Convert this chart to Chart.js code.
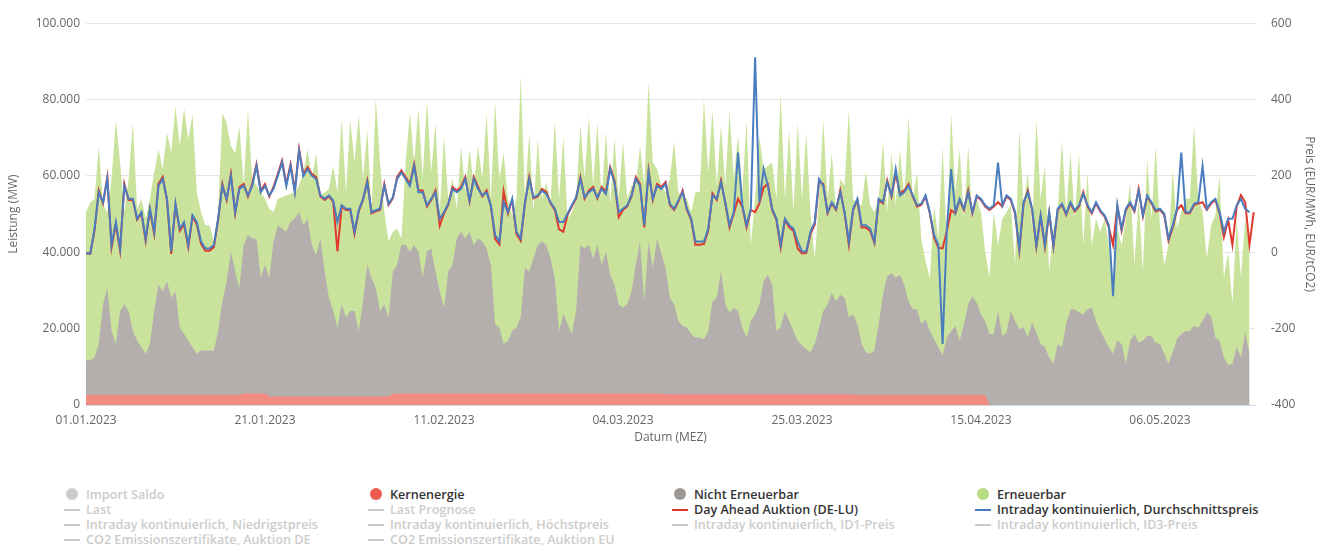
<!DOCTYPE html>
<html lang="de">
<head>
<meta charset="utf-8">
<title>Nettostromerzeugung und Preise 2023</title>
<script src="https://cdn.jsdelivr.net/npm/chart.js@4.4.0/dist/chart.umd.min.js"></script>
<style>
    body { margin: 0; background: #fff; font-family: 'Open Sans', sans-serif; }
    #wrap { position: absolute; left: 0; top: 0; width: 1328px; height: 460px; }
    .legend-item { position: absolute; font-size: 12.6px; font-weight: 600; line-height: 15px; white-space: nowrap; color: #333; }
    .legend-item.off { color: #ccc; }
    .legend-item .dot { position: absolute; left: 2px; top: 1px; width: 12px; height: 12px; border-radius: 50%; }
    .legend-item .dash { position: absolute; left: 0; top: 7px; width: 16px; height: 2px; }
    .legend-item .label { padding-left: 22px; }
</style>
</head>
<body>
<div id="wrap"><canvas id="chart" width="1328" height="460"></canvas></div>
<div id="legend"></div>
<script>
// Raster: halbe Tage (Index i -> Tag i/2)
const tickTage = [0, 21, 42, 63, 84, 105, 126];
const tickLabels = ['01.01.2023', '21.01.2023', '11.02.2023', '04.03.2023', '25.03.2023', '15.04.2023', '06.05.2023'];
const leistungTicks = [0, 20000, 40000, 60000, 80000, 100000];
const preisTicks = [-400, -200, 0, 200, 400, 600];

// Kernenergie (MW)
const kernenergie = [
    2600, 2600, 2600, 2600, 2600, 2600, 2600, 2600, 2600, 2600,
    2600, 2600, 2600, 2600, 2600, 2600, 2600, 2600, 2600, 2600,
    2600, 2600, 2600, 2600, 2600, 2600, 2600, 2600, 2600, 2600,
    2600, 2600, 2600, 2600, 2600, 2600, 2600,
    3000, 3000, 3000, 3000, 3000, 3000,
    2200, 2200, 2200, 2200, 2200, 2200, 2200, 2200, 2200, 2200,
    2200, 2200, 2200, 2200, 2200, 2200, 2200, 2200, 2200, 2200,
    2200, 2200, 2200, 2200, 2200, 2200, 2200, 2200, 2200,
    3000, 3000, 3000, 3000, 3000, 3000, 3000, 3000, 3000, 3000,
    3000, 3000, 3000, 3000, 3000, 3000, 3000, 3000, 3000, 3000,
    3000, 3000, 3000, 3000, 3000, 3000, 3000, 3000, 3000, 3000,
    3000, 3000, 3000, 3000, 3000, 3000, 3000, 3000, 3000, 3000,
    3000, 3000, 3000, 3000, 3000, 3000, 3000, 3000, 3000, 3000,
    3000, 3000, 3000, 3000, 3000, 3000, 3000, 3000, 3000, 3000,
    3000, 3000, 3000, 3000,
    2800, 2800, 2800, 2800, 2800, 2800, 2800, 2800, 2800, 2800,
    2800, 2800, 2800, 2800, 2800, 2800, 2800, 2800, 2800, 2800,
    2800, 2800, 2800, 2800, 2800, 2800, 2800, 2800, 2800, 2800,
    2800, 2800, 2800, 2800, 2800, 2800, 2800, 2800, 2800, 2800,
    2800, 2800, 2800, 2800, 2800,
    2600, 2600, 2600, 2600, 2600, 2600, 2600, 2600, 2600, 2600,
    2600, 2600, 2600, 2600, 2600, 2600, 2600, 2600, 2600, 2600,
    2600, 2600, 2600, 2600, 2600, 2600, 2600, 2600, 2600, 2600,
    2600,
    0, 0, 0, 0, 0, 0, 0, 0, 0, 0,
    0, 0, 0, 0, 0, 0, 0, 0, 0, 0,
    0, 0, 0, 0, 0, 0, 0, 0, 0, 0,
    0, 0, 0, 0, 0, 0, 0, 0, 0, 0,
    0, 0, 0, 0, 0, 0, 0, 0, 0, 0,
    0, 0, 0, 0, 0, 0, 0, 0, 0, 0,
    0, 0
];

// Obere Kante grau: Kernenergie + nicht erneuerbar (MW)
const summeKonventionell = [
    11700, 11700, 12500, 16000, 26400, 30700, 19400, 16000, 24600, 26400,
    24600, 19400, 16800, 15100, 13400, 16000, 24600, 31500, 29800, 32400,
    28100, 29800, 20300, 18600, 16800, 15100, 13400, 14300, 14300, 14300, 14300,
    19400, 27200, 32400, 40200, 35000, 30700, 41900, 44500, 43600, 43600,
    33300, 36700, 33300, 42800,
    47100, 46200, 45400, 48000, 48800, 50500, 47100, 48800, 41900, 39300,
    43600, 35000, 28100, 24600, 20300, 26400, 22900, 24600, 24600, 19400,
    27200, 36700, 33300, 30700, 24600, 26400, 22900, 35000, 36700, 42000,
    41900, 40200, 41900, 40200, 33300, 40200, 41000, 35000, 29800, 25500,
    35000, 36700, 43600, 45400,
    43600, 45400, 41900, 43600, 42800, 41000, 36700, 21200, 20300, 16000,
    16800, 19400, 20300, 22900, 35900, 35000, 38400, 41900, 42800, 41900,
    38400, 33300, 19400, 23800, 21200, 18600, 24600, 41900, 41000, 41900,
    38400, 41900, 36700, 40200, 34100, 31500, 26400, 25500, 26400, 29800,
    36700, 42800, 27200, 42800,
    35900, 43600, 39700, 35900, 28100, 26400, 22000, 20700, 20300, 18600,
    17700, 17700, 17300, 19400, 27200, 28100, 35000, 26400, 24200, 25500, 24600,
    20300, 17700, 22000, 23800, 26400, 32400, 34100, 31500, 19400, 20300,
    24600, 22000, 19400, 16800, 15600, 14700, 13800, 16000, 20300, 24600,
    26400, 29400, 27200, 28900,
    28100, 22900, 23800, 21200, 16000, 13800, 13400, 14300, 21200, 28900,
    33700, 34600, 33300, 34100, 31500, 27200, 25100, 25100, 21200, 22500,
    19400, 17300, 15100, 13000, 17700, 19300, 20700, 16800, 21200, 26400,
    28500, 26800, 23800, 22000, 18600, 18600, 24600, 18100, 19000, 24600,
    22000, 19900, 20300, 17700,
    21600, 19000, 16000, 15100, 12500, 10800, 16000, 15100, 21200, 25100,
    25100, 24200, 23800, 25100, 25500, 22000, 19400, 17300, 15100, 13400,
    16800, 16000, 10800, 16800, 18600, 16400, 16800, 18100, 18100, 16400,
    16000, 13400, 10800, 13800, 17300, 18600, 19400, 19400, 20700, 20300, 22000,
    24200, 23300, 17700, 16800, 12500, 10400, 10800, 15100, 12500, 19000,
    13400
];

// Obere Kante gruen: gesamte Erzeugung (MW)
const summeErzeugung = [
    50500, 53100, 54000, 67800, 52300, 50500, 59200, 74700, 63500, 50500,
    59200, 73900, 51400, 54000, 48800, 54000, 60900, 67000, 61800, 71300,
    66100, 78200, 67800, 77800, 69600, 76000, 55700, 50500, 47100, 47100, 42800,
    50500, 76500, 73900, 67800, 66100, 73000, 57500, 77300, 59200, 57500,
    55700, 54000, 51400, 50500,
    54000, 54400, 54900, 55300, 55700, 57500, 60900, 67000, 59200, 66100,
    54900, 55700, 56600, 62600, 55700, 75200, 55700, 74700, 63500, 76000,
    59200, 72100, 50500, 80400, 63500, 50500, 42800, 45400, 46200, 43600,
    63500, 76500, 63500, 77800, 59200, 79900, 60900, 73900, 50500, 70400,
    54000, 59200, 51400, 67800,
    55700, 67000, 57500, 67800, 59200, 76500, 54000, 79500, 59200, 66100,
    54000, 49700, 54000, 86400, 54000, 71300, 50500, 69600, 54000, 58300,
    53100, 74700, 54000, 70400, 48800, 50500, 54000, 73400, 59200, 75600,
    57500, 73900, 54000, 71700, 52300, 70000, 54000, 69100, 54000, 57500,
    57500, 67800, 57500, 84700,
    63500, 61800, 57500, 55700, 59200, 69100, 55700, 54900, 54000, 50500,
    55700, 55700, 80400, 60900, 77300, 57500, 73400, 57500, 76900, 59200, 70800,
    55700, 74700, 41900, 54000, 70400, 61800, 62600, 63500, 54000, 81600,
    54000, 72100, 50500, 73900, 54000, 71300, 50500, 38400, 54000, 74700,
    54000, 66100, 50500, 59200,
    57500, 77300, 54000, 52300, 52300, 61300, 52300, 50500, 54000, 69100,
    50500, 66100, 52300, 67000, 54000, 75600, 54000, 60900, 43600, 37600,
    33300, 52300, 43600, 67800, 41900, 76500, 55700, 67000, 48800, 67800,
    48800, 54000, 50500, 40200, 33300, 50500, 41900, 48800, 50500, 52300,
    36700, 72100, 52300, 60900,
    46200, 74700, 54000, 62600, 35000, 46200, 50500, 69100, 50500, 66100,
    48800, 66100, 41900, 60900, 41900, 48800, 45400, 48800, 41900, 31500,
    46200, 41900, 48800, 58300, 36700, 54000, 35000, 64400, 48800, 67800,
    47100, 36700, 41900, 61800, 46200, 50500, 54000, 54000, 73400, 54000, 50500,
    38400, 47100, 49700, 60000, 33300, 40200, 26400, 48800, 33300, 48800,
    41900
];

// Day Ahead Auktion (DE-LU), EUR/MWh
const dayAhead = [
    -2, -4, 56, 162, 128, 197, 13, 73, 4, 179,
    137, 137, 85, 102, 30, 111, 48, 179, 197, 137,
    -4, 124, 56, 73, 13, 94, 73, 22, 4, 4, 13,
    85, 179, 137, 205, 102, 171, 179, 146, 179, 231,
    162, 179, 146, 171,
    205, 240, 179, 231, 162, 270, 205, 223, 205, 197,
    146, 137, 146, 133, 2, 120, 111, 111, 48, 107,
    137, 188, 102, 107, 111, 179, 124, 141, 197, 214,
    197, 179, 231, 162, 162, 120, 137, 162, 70, 102,
    124, 171, 162, 171,
    197, 133, 197, 171, 146, 162, 120, 35, 20, 160,
    102, 137, 48, 30, 128, 197, 141, 146, 166, 158,
    128, 111, 60, 54, 98, 120, 141, 197, 141, 162,
    171, 141, 171, 158, 223, 188, 92, 111, 120, 146,
    197, 179, 65, 214,
    137, 179, 171, 184, 124, 111, 133, 162, 111, 85,
    20, 20, 22, 56, 154, 137, 188, 128, 65, 102, 140,
    120, 65, 111, 105, 128, 170, 179, 111, 85, 12,
    85, 65, 56, 10, -3, -2, 48, 73, 185, 179,
    102, 128, 111, 162,
    102, 20, 111, 137, 65, 65, 56, 24, 137, 128,
    188, 146, 205, 154, 162, 179, 146, 120, 124, 146,
    102, 38, 12, 10, 56, 110, 102, 137, 111, 162,
    102, 146, 137, 120, 111, 120, 131, 120, 146, 137,
    102, 5, 128, 162,
    111, 14, 94, 14, 102, 14, 111, 124, 98, 128,
    107, 120, 158, 120, 102, 128, 107, 94, 65, 19,
    120, 56, 111, 128, 107, 166, 94, 146, 128, 107,
    111, 98, 30, 65, 111, 123, 102, 102, 124, 128, 131,
    111, 128, 137, 102, 40, 85, 19, 120, 150, 131,
    20, 105
];

// Intraday kontinuierlich, Durchschnittspreis, EUR/MWh
const intradayDurchschnitt = [
    -3, -3, 62, 157, 131, 192, 19, 79, 10, 174,
    140, 140, 88, 105, 36, 114, 54, 174, 192, 140,
    2, 127, 62, 79, 19, 97, 79, 28, 10, 10, 19,
    88, 174, 140, 200, 105, 166, 174, 149, 174, 226,
    157, 174, 149, 166,
    200, 235, 174, 226, 157, 265, 200, 218, 200, 192,
    149, 140, 149, 136, 79, 123, 114, 114, 54, 110,
    140, 183, 105, 110, 114, 174, 127, 144, 192, 209,
    192, 174, 226, 157, 157, 123, 140, 157, 88, 105,
    127, 166, 157, 166,
    192, 136, 192, 166, 149, 157, 123, 45, 28, 131,
    105, 140, 54, 36, 131, 192, 144, 149, 161, 153,
    131, 114, 79, 79, 101, 123, 144, 192, 144, 157,
    166, 144, 166, 153, 218, 183, 105, 114, 123, 149,
    192, 174, 71, 209,
    140, 174, 166, 179, 127, 114, 136, 157, 114, 88,
    28, 28, 28, 62, 149, 140, 183, 131, 71, 105, 261,
    123, 71, 114, 511, 131, 218, 174, 114, 88, 19,
    88, 71, 62, 28, 2, 2, 54, 79, 192, 174,
    105, 131, 114, 157,
    105, 28, 114, 140, 71, 71, 62, 28, 140, 131,
    183, 149, 218, 149, 157, 174, 149, 123, 127, 149,
    105, 45, 19, -240, 62, 218, 105, 140, 114, 157,
    105, 149, 140, 123, 114, 123, 235, 123, 149, 140,
    105, 10, 131, 157,
    114, 19, 97, 19, 105, 19, 114, 127, 101, 131,
    110, 123, 153, 123, 105, 131, 110, 97, 71, -115,
    123, 62, 114, 131, 110, 161, 97, 149, 131, 110,
    114, 101, 36, 71, 114, 261, 105, 105, 127, 131, 226,
    114, 131, 140, 105, 54, 88, 88, 123, 140, 114,
    105
];

const legendeSpalten = [64, 368, 672, 975];
const legendeZeilen = [494, 509, 524, 539];
const legendeEintraege = [
    { spalte: 0, zeile: 0, text: 'Import Saldo', art: 'dot', farbe: '#ccc', aktiv: false },
    { spalte: 0, zeile: 1, text: 'Last', art: 'dash', farbe: '#ccc', aktiv: false },
    { spalte: 0, zeile: 2, text: 'Intraday kontinuierlich, Niedrigstpreis', art: 'dash', farbe: '#ccc', aktiv: false },
    { spalte: 0, zeile: 3, text: 'CO2 Emissionszertifikate, Auktion DE', art: 'dash', farbe: '#ccc', aktiv: false },
    { spalte: 1, zeile: 0, text: 'Kernenergie', art: 'dot', farbe: '#eb5b50', aktiv: true },
    { spalte: 1, zeile: 1, text: 'Last Prognose', art: 'dash', farbe: '#ccc', aktiv: false },
    { spalte: 1, zeile: 2, text: 'Intraday kontinuierlich, Höchstpreis', art: 'dash', farbe: '#ccc', aktiv: false },
    { spalte: 1, zeile: 3, text: 'CO2 Emissionszertifikate, Auktion EU', art: 'dash', farbe: '#ccc', aktiv: false },
    { spalte: 2, zeile: 0, text: 'Nicht Erneuerbar', art: 'dot', farbe: '#9d9793', aktiv: true },
    { spalte: 2, zeile: 1, text: 'Day Ahead Auktion (DE-LU)', art: 'dash', farbe: '#e0382b', aktiv: true },
    { spalte: 2, zeile: 2, text: 'Intraday kontinuierlich, ID1-Preis', art: 'dash', farbe: '#ccc', aktiv: false },
    { spalte: 3, zeile: 0, text: 'Erneuerbar', art: 'dot', farbe: '#b8dc84', aktiv: true },
    { spalte: 3, zeile: 1, text: 'Intraday kontinuierlich, Durchschnittspreis', art: 'dash', farbe: '#4a7dbf', aktiv: true },
    { spalte: 3, zeile: 2, text: 'Intraday kontinuierlich, ID3-Preis', art: 'dash', farbe: '#ccc', aktiv: false }
];

function tausender(v) {
    return String(v).replace(/\B(?=(\d{3})+(?!\d))/g, '.');
}

function punkte(werte) {
    return werte.map((v, i) => ({ x: i / 2, y: v }));
}

function buildLegend() {
    const box = document.getElementById('legend');
    legendeEintraege.forEach(e => {
        const el = document.createElement('div');
        el.className = 'legend-item' + (e.aktiv ? '' : ' off');
        el.style.left = legendeSpalten[e.spalte] + 'px';
        el.style.top = (legendeZeilen[e.zeile] - 7) + 'px';
        el.innerHTML = `<i class="${e.art}" style="background:${e.farbe}"></i><span class="label">${e.text}</span>`;
        box.appendChild(el);
    });
}

function initChart() {
    const nichtErneuerbar = summeKonventionell.map((v, i) => v - kernenergie[i]);
    const erneuerbar = summeErzeugung.map((v, i) => v - summeKonventionell[i]);
    const schrift = { family: "'Open Sans', sans-serif", size: 12 };

    const ctx = document.getElementById('chart').getContext('2d');
    new Chart(ctx, {
        type: 'line',
        data: {
            datasets: [
                {
                    label: 'Intraday kontinuierlich, Durchschnittspreis',
                    data: punkte(intradayDurchschnitt),
                    yAxisID: 'y1',
                    borderColor: '#4a7dbf',
                    borderWidth: 2,
                    pointRadius: 0,
                    tension: 0,
                    fill: false,
                    order: 0
                },
                {
                    label: 'Day Ahead Auktion (DE-LU)',
                    data: punkte(dayAhead),
                    yAxisID: 'y1',
                    borderColor: '#e0382b',
                    borderWidth: 2,
                    pointRadius: 0,
                    tension: 0,
                    fill: false,
                    order: 1
                },
                {
                    label: 'Kernenergie',
                    data: punkte(kernenergie),
                    yAxisID: 'y',
                    borderWidth: 0,
                    pointRadius: 0,
                    backgroundColor: '#f28b82',
                    fill: 'origin',
                    order: 2
                },
                {
                    label: 'Nicht Erneuerbar',
                    data: punkte(nichtErneuerbar),
                    yAxisID: 'y',
                    borderWidth: 0,
                    pointRadius: 0,
                    backgroundColor: '#b4afad',
                    fill: 'origin',
                    order: 3
                },
                {
                    label: 'Erneuerbar',
                    data: punkte(erneuerbar),
                    yAxisID: 'y',
                    borderWidth: 0,
                    pointRadius: 0,
                    backgroundColor: '#c9e39c',
                    fill: 'origin',
                    order: 4
                }
            ]
        },
        options: {
            responsive: false,
            animation: false,
            devicePixelRatio: 1,
            layout: { padding: { top: 19, right: 0, bottom: 0, left: 0 } },
            plugins: {
                legend: { display: false },
                tooltip: { enabled: false }
            },
            scales: {
                x: {
                    type: 'linear',
                    min: 0,
                    max: 137.15,
                    grid: { display: false },
                    border: { display: true, color: '#ccd6eb', width: 1 },
                    afterBuildTicks: function(scale) {
                        scale.ticks = tickTage.map(t => ({ value: t }));
                    },
                    afterFit: function(scale) { scale.height = 55; },
                    ticks: {
                        autoSkip: false,
                        maxRotation: 0,
                        padding: 0,
                        color: '#666',
                        font: schrift,
                        callback: function(value) { return tickLabels[tickTage.indexOf(value)]; }
                    },
                    title: {
                        display: true,
                        text: 'Datum (MEZ)',
                        color: '#666',
                        font: schrift,
                        padding: { top: 0, bottom: 15 }
                    }
                },
                y: {
                    position: 'left',
                    stacked: true,
                    min: 0,
                    max: 100000,
                    afterBuildTicks: function(scale) {
                        scale.ticks = leistungTicks.map(t => ({ value: t }));
                    },
                    afterFit: function(scale) { scale.width = 86; },
                    grid: { color: '#e6e6e6', drawTicks: false },
                    border: { display: false },
                    ticks: {
                        padding: 6,
                        color: '#666',
                        font: schrift,
                        callback: function(value) { return tausender(value); }
                    },
                    title: {
                        display: true,
                        text: 'Leistung (MW)',
                        color: '#666',
                        font: schrift,
                        padding: { top: 6, bottom: 0 }
                    }
                },
                y1: {
                    position: 'right',
                    min: -400,
                    max: 600,
                    afterBuildTicks: function(scale) {
                        scale.ticks = preisTicks.map(t => ({ value: t }));
                    },
                    afterFit: function(scale) { scale.width = 73; },
                    grid: { drawOnChartArea: false, drawTicks: false },
                    border: { display: false },
                    ticks: {
                        padding: 16,
                        color: '#666',
                        font: schrift
                    },
                    title: {
                        display: true,
                        text: 'Preis (EUR/MWh, EUR/tCO2)',
                        color: '#666',
                        font: schrift,
                        padding: { top: 11, bottom: 0 }
                    }
                }
            }
        }
    });
}

document.addEventListener('DOMContentLoaded', function() {
    buildLegend();
    initChart();
});
</script>
</body>
</html>
